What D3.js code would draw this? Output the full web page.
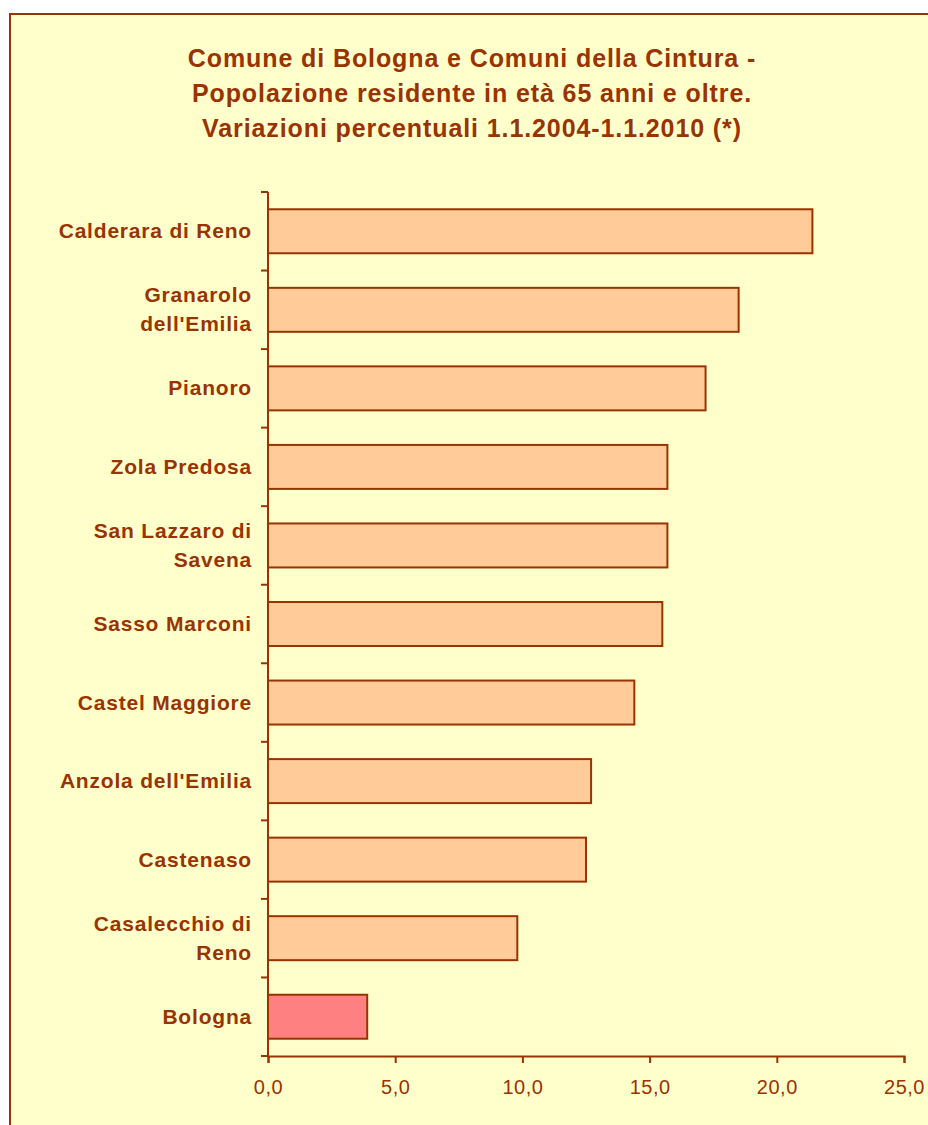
<!DOCTYPE html>
<html>
<head>
<meta charset="utf-8">
<script src="https://cdn.jsdelivr.net/npm/d3@7"></script>
<style>
	body { margin: 0; background: #fff; }
	svg { display: block; font-family: "Liberation Sans", Arial, sans-serif; }
</style>
</head>
<body>
<div id="chart"></div>
<script>
// comuni (top to bottom) and their % variation
const comuni = [
	["Calderara di Reno"],
	["Granarolo", "dell'Emilia"],
	["Pianoro"],
	["Zola Predosa"],
	["San Lazzaro di", "Savena"],
	["Sasso Marconi"],
	["Castel Maggiore"],
	["Anzola dell'Emilia"],
	["Castenaso"],
	["Casalecchio di", "Reno"],
	["Bologna"]
];
const variazioni = [21.4, 18.5, 17.2, 15.7, 15.7, 15.5, 14.4, 12.7, 12.5, 9.8, 3.9];
const xTicks = [0, 5, 10, 15, 20, 25];
const titolo = [
	"Comune di Bologna e Comuni della Cintura -",
	"Popolazione residente in età 65 anni e oltre.",
	"Variazioni percentuali 1.1.2004-1.1.2010 (*)"
];

const brown = "#993300";
const W = 928, H = 1125;
const margin = {top: 192, left: 268, right: 24, bottom: 69};

const svg = d3.select("#chart").append("svg")
	.attr("width", W).attr("height", H);

// frame
svg.append("rect")
	.attr("x", 10).attr("y", 14)
	.attr("width", W + 20).attr("height", H + 20)
	.attr("fill", "#FFFFCC")
	.attr("stroke", brown).attr("stroke-width", 2);

// title
svg.append("g").selectAll("text")
	.data(titolo)
	.join("text")
	.attr("x", 472)
	.attr("y", (d, i) => 67 + i * 35)
	.attr("text-anchor", "middle")
	.attr("font-size", 25).attr("font-weight", "bold")
	.attr("letter-spacing", 0.9)
	.attr("fill", brown)
	.text(d => d);

const idx = d3.range(comuni.length);

const x = d3.scaleLinear()
	.domain([0, 25])
	.range([margin.left, W - margin.right]);

const y = d3.scaleBand()
	.domain(idx)
	.range([margin.top, H - margin.bottom])
	.paddingInner(0.44).paddingOuter(0.22);

// bars
svg.append("g").selectAll("rect")
	.data(idx)
	.join("rect")
	.attr("x", x(0))
	.attr("y", i => y(i))
	.attr("width", i => x(variazioni[i]) - x(0))
	.attr("height", y.bandwidth())
	.attr("fill", i => comuni[i][0] === "Bologna" ? "#FF8080" : "#FFCC99")
	.attr("stroke", brown).attr("stroke-width", 2);

// y axis line + ticks between categories
const step = (H - margin.bottom - margin.top) / comuni.length;
const yAxis = svg.append("g");
yAxis.append("line")
	.attr("x1", x(0)).attr("x2", x(0))
	.attr("y1", margin.top).attr("y2", H - margin.bottom)
	.attr("stroke", brown).attr("stroke-width", 2);
yAxis.selectAll("line.tick")
	.data(d3.range(comuni.length + 1))
	.join("line")
	.classed("tick", true)
	.attr("x1", x(0) - 7).attr("x2", x(0))
	.attr("y1", i => margin.top + i * step)
	.attr("y2", i => margin.top + i * step)
	.attr("stroke", brown).attr("stroke-width", 2);

// category labels
const labels = svg.append("g").selectAll("text")
	.data(idx)
	.join("text")
	.attr("text-anchor", "end")
	.attr("font-size", 21).attr("font-weight", "bold")
	.attr("letter-spacing", 0.8)
	.attr("fill", brown)
	.attr("transform", i => `translate(252, ${y(i) + y.bandwidth() / 2})`);
labels.selectAll("tspan")
	.data(i => comuni[i].map((t, k, a) => ({t, k, n: a.length})))
	.join("tspan")
	.attr("x", 0)
	.attr("y", d => (d.k - (d.n - 1) / 2) * 29 + 7)
	.text(d => d.t);

// x axis
const fmt = d => d.toFixed(1).replace(".", ",");
const xAxis = svg.append("g")
	.attr("transform", `translate(0, ${H - margin.bottom})`)
	.call(d3.axisBottom(x).tickValues(xTicks).tickFormat(fmt).tickSizeOuter(0).tickSize(7).tickPadding(17));
xAxis.select(".domain").attr("stroke", brown).attr("stroke-width", 2);
xAxis.selectAll(".tick line").attr("stroke", brown).attr("stroke-width", 2);
xAxis.selectAll(".tick text")
	.attr("fill", brown)
	.attr("font-size", 20)
	.attr("letter-spacing", 0.5)
	.attr("font-family", "Liberation Sans, Arial, sans-serif");
</script>
</body>
</html>
